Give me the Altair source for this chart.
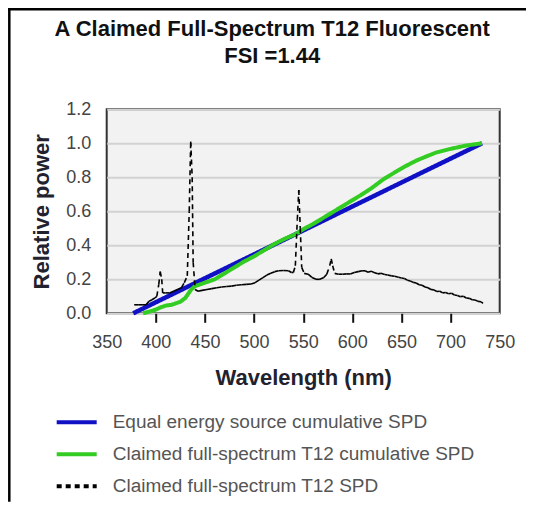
import altair as alt
import pandas as pd

# ---- data ----
eq_nm = [377, 450, 545, 640, 732]
eq_val = [0.0, 0.206, 0.473, 0.741, 1.0]

cum_nm = [387, 395, 400, 405, 410, 416, 420, 425, 430, 433, 436, 440, 450, 460, 470,
          480, 490, 500, 510, 520, 530, 540, 545, 550, 560, 570, 580, 590, 600, 610,
          620, 632, 645, 655, 665, 675, 685, 699, 715, 732]
cum_val = [0.0, 0.012, 0.022, 0.035, 0.045, 0.05, 0.058, 0.068, 0.09, 0.115, 0.14, 0.16,
           0.18, 0.2, 0.235, 0.27, 0.305, 0.335, 0.37, 0.405, 0.435, 0.46, 0.475, 0.495,
           0.525, 0.56, 0.595, 0.63, 0.665, 0.7, 0.738, 0.79, 0.835, 0.868, 0.898, 0.922,
           0.945, 0.966, 0.986, 1.0]

spd_nm = [378, 382, 386, 390, 393, 396, 399, 401, 403, 404.5, 406, 407, 410, 414, 418,
          422, 426, 429, 432, 434, 435.5, 437, 438, 440, 443, 447, 452, 457, 462, 467,
          472, 477, 482, 487, 492, 497, 501, 505, 509, 513, 517, 521, 525, 530, 535,
          538, 540, 542, 544, 545.5, 547, 548.5, 551, 555, 559, 563, 567, 571, 574, 577,
          578.5, 580, 582, 586, 590, 594, 598, 602, 606, 610, 613, 616, 619, 622, 626,
          629, 633, 636, 640, 643, 647, 650, 653, 656, 659, 662, 665, 668, 671, 674,
          677, 680, 683, 686, 689, 692, 695, 698, 701, 704, 707, 710, 713, 716, 719,
          722, 725, 728, 731, 733]
spd_val = [0.05, 0.05, 0.05, 0.05, 0.07, 0.08, 0.09, 0.10, 0.17, 0.245, 0.20, 0.12, 0.12,
           0.12, 0.13, 0.14, 0.15, 0.18, 0.22, 0.6, 1.01, 0.8, 0.3, 0.14, 0.13, 0.135,
           0.14, 0.145, 0.15, 0.155, 0.158, 0.16, 0.165, 0.168, 0.17, 0.172, 0.18, 0.195,
           0.21, 0.225, 0.235, 0.245, 0.25, 0.252, 0.25, 0.24, 0.24, 0.28, 0.55, 0.725,
           0.5, 0.27, 0.235, 0.23, 0.21, 0.2, 0.2, 0.21, 0.23, 0.28, 0.32, 0.28, 0.235,
           0.23, 0.23, 0.232, 0.231, 0.24, 0.245, 0.25, 0.25, 0.242, 0.248, 0.24, 0.232,
           0.235, 0.228, 0.225, 0.22, 0.218, 0.212, 0.208, 0.205, 0.195, 0.19, 0.182,
           0.178, 0.168, 0.165, 0.155, 0.15, 0.14, 0.138, 0.128, 0.13, 0.12, 0.122, 0.115,
           0.118, 0.108, 0.105, 0.098, 0.1, 0.09, 0.088, 0.08, 0.078, 0.07, 0.068, 0.058]

series_names = ["Equal energy source cumulative SPD",
                "Claimed full-spectrum T12 cumulative SPD",
                "Claimed full-spectrum T12 SPD"]
series_colors = ["#1010C4", "#33CC22", "#000000"]
series_dashes = [[1, 0], [1, 0], [5, 4]]

x_ticks = [350, 400, 450, 500, 550, 600, 650, 700, 750]
y_ticks = [0.0, 0.2, 0.4, 0.6, 0.8, 1.0, 1.2]

# ---- tables ----
eq_df = pd.DataFrame({"nm": eq_nm, "value": eq_val, "series": series_names[0]})
cum_df = pd.DataFrame({"nm": cum_nm, "value": cum_val, "series": series_names[1]})
spd_df = pd.DataFrame({
    "nm": spd_nm[:-1], "nm2": spd_nm[1:],
    "value": spd_val[:-1], "value2": spd_val[1:],
    "series": series_names[2],
})

FONT = "Liberation Sans"
W, H = 393, 204
PAD_L, PAD_T, PAD_R, PAD_B = 98.7, 101.3, 26.3, 188.5

x_axis = alt.Axis(
    values=x_ticks, title="Wavelength (nm)", grid=False, domain=False,
    tickColor={"condition": {"test": "datum.value == 350 || datum.value == 750",
                             "value": "transparent"}, "value": "#111111"},
    tickSize=9, tickWidth=2, labelPadding=11, labelFontSize=18, labelColor="#444444",
    labelFont=FONT, titleFont=FONT, titleFontSize=22, titleFontWeight="bold",
    titleColor="#22222e", titlePadding=16, labelFlush=False,
)
y_axis = alt.Axis(
    values=y_ticks, format=".1f", title="Relative power", grid=True,
    gridColor="#d2d2d2", gridWidth=2, domain=False, ticks=False,
    labelPadding=16, labelFontSize=18, labelColor="#444444", labelFont=FONT,
    titleFont=FONT, titleFontSize=22, titleFontWeight="bold", titleColor="#22222e",
    titlePadding=12,
)
x_scale = alt.Scale(domain=[350, 750], nice=False, zero=False)
y_scale = alt.Scale(domain=[0, 1.2], nice=False)

legend_def = alt.Legend(
    title=None, orient="none", legendX=-52, legendY=291, direction="vertical",
    symbolType="stroke", symbolSize=1600, symbolStrokeWidth=4,
    labelFontSize=19, labelFont=FONT, labelColor="#555555", labelOffset=14,
    rowPadding=-8, labelLimit=500,
)
color_enc = alt.Color(
    "series:N", scale=alt.Scale(domain=series_names, range=series_colors),
    legend=legend_def,
)
dash_enc = alt.StrokeDash(
    "series:N", scale=alt.Scale(domain=series_names, range=series_dashes),
    legend=legend_def,
)

eq_line = alt.Chart(eq_df).mark_line(strokeWidth=4.5).encode(
    x=alt.X("nm:Q", scale=x_scale, axis=x_axis),
    y=alt.Y("value:Q", scale=y_scale, axis=y_axis),
    color=color_enc, strokeDash=dash_enc,
)
cum_line = alt.Chart(cum_df).mark_line(strokeWidth=4).encode(
    x=alt.X("nm:Q", scale=x_scale, axis=x_axis),
    y=alt.Y("value:Q", scale=y_scale, axis=y_axis),
    color=color_enc, strokeDash=dash_enc,
)
spd_segs = alt.Chart(spd_df).mark_rule(strokeWidth=1.6).encode(
    x=alt.X("nm:Q", scale=x_scale, axis=x_axis),
    x2="nm2:Q",
    y=alt.Y("value:Q", scale=y_scale, axis=y_axis),
    y2="value2:Q",
    color=color_enc, strokeDash=dash_enc,
)

# frame lines around the whole figure (left and top)
frame_left = alt.Chart(alt.Data(values=[{}])).mark_rule(color="#000000", strokeWidth=2.5).encode(
    x=alt.value(-PAD_L + 1.3), y=alt.value(-PAD_T), y2=alt.value(H + PAD_B)
)
frame_top = alt.Chart(alt.Data(values=[{}])).mark_rule(color="#000000", strokeWidth=2.5).encode(
    y=alt.value(-PAD_T + 1.3), x=alt.value(-PAD_L), x2=alt.value(W + PAD_R)
)

chart = alt.layer(eq_line, cum_line, spd_segs, frame_left, frame_top).properties(
    width=W, height=H,
    padding={"left": PAD_L, "top": PAD_T, "right": PAD_R, "bottom": PAD_B},
    autosize=alt.AutoSizeParams(type="none"),
    background="white",
    title=alt.TitleParams(
        text=["A Claimed Full-Spectrum T12 Fluorescent", "FSI =1.44"],
        font=FONT, fontSize=22, fontWeight="bold", color="#111111",
        anchor="middle", dx=-31, offset=0, dy=61, lineHeight=27,
    ),
).configure_view(
    fill="#F2F2F2", stroke="#333333", strokeWidth=2
)

chart.save("out.html", embed_options={"renderer": "svg", "actions": False})
